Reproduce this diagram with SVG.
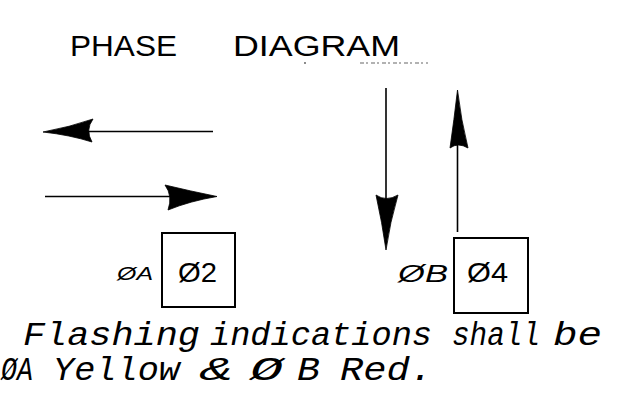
<svg xmlns="http://www.w3.org/2000/svg" width="623" height="395" viewBox="0 0 623 395">
  <style>
    .title { font-family: "Liberation Sans", Arial, sans-serif; font-size: 29px; fill: #000; }
    .num { font-family: "Liberation Sans", Arial, sans-serif; font-size: 28px; fill: #000; }
    .tag { font-family: "Liberation Sans", Arial, sans-serif; font-style: italic; fill: #000; }
    .note { font-family: "Liberation Mono", "Courier New", monospace; font-style: italic; font-size: 33px; fill: #000; }
    .box { fill: none; stroke: #000; stroke-width: 2; }
    .shaft { fill: none; stroke: #000; stroke-width: 1.6; }
    .head { fill: #000; stroke: #000; stroke-width: 0.8; stroke-linejoin: round; }
  </style>

  <!-- heading -->
  <g id="title">
    <text class="title" x="70" y="56" textLength="107" lengthAdjust="spacingAndGlyphs">PHASE</text>
    <text class="title" x="233" y="56" textLength="167" lengthAdjust="spacingAndGlyphs">DIAGRAM</text>
    <circle cx="305" cy="63" r="0.9" fill="#555"/>
    <line x1="360" y1="63" x2="428" y2="63" stroke="#666" stroke-width="1.2" stroke-dasharray="4 2 2 3"/>
  </g>

  <!-- movement arrows -->
  <g id="connectors">
    <!-- westbound -->
    <line class="shaft" x1="88" y1="131.5" x2="213" y2="131.5"/>
    <path class="head" d="M43,132 Q70,127 93,119 Q85,130 92,142 Q70,135 43,132 Z"/>
    <!-- eastbound -->
    <line class="shaft" x1="45" y1="196.5" x2="172" y2="196.5"/>
    <path class="head" d="M217,196.5 Q190,191 165,185 Q173,196 168,210 Q190,201 217,196.5 Z"/>
    <!-- southbound -->
    <line class="shaft" x1="386" y1="88" x2="386" y2="202"/>
    <path class="head" d="M386,250 Q382,222 376,195 Q386,202 398,195 Q390,222 386,250 Z"/>
    <!-- northbound -->
    <line class="shaft" x1="457.5" y1="143" x2="457.5" y2="232"/>
    <path class="head" d="M457.5,90 Q454,120 450,148 Q458,142 468,148 Q461,120 457.5,90 Z"/>
  </g>

  <!-- phase A -->
  <g id="phase-a">
    <text class="tag" x="117" y="280" font-size="19" textLength="36" lengthAdjust="spacingAndGlyphs">ØA</text>
    <rect class="box" x="162" y="233" width="73" height="74"/>
    <text class="num" x="178" y="282" textLength="39" lengthAdjust="spacingAndGlyphs">Ø2</text>
  </g>

  <!-- phase B -->
  <g id="phase-b">
    <text class="tag" x="398" y="282" font-size="24" textLength="50" lengthAdjust="spacingAndGlyphs">ØB</text>
    <rect class="box" x="454" y="238" width="74" height="75"/>
    <text class="num" x="467" y="282" textLength="41" lengthAdjust="spacingAndGlyphs">Ø4</text>
  </g>

  <!-- flashing note -->
  <g id="note">
    <text class="note" x="23" y="345" textLength="177" lengthAdjust="spacingAndGlyphs">Flashing</text>
    <text class="note" x="210" y="345" textLength="222" lengthAdjust="spacingAndGlyphs">indications</text>
    <text class="note" x="452" y="345" textLength="88" lengthAdjust="spacingAndGlyphs">shall</text>
    <text class="note" x="553" y="345" textLength="49" lengthAdjust="spacingAndGlyphs">be</text>
    <text class="note" x="1" y="380" textLength="32" lengthAdjust="spacingAndGlyphs">ØA</text>
    <text class="note" x="53" y="380" textLength="127" lengthAdjust="spacingAndGlyphs">Yellow</text>
    <text class="note" x="200" y="380" textLength="33" lengthAdjust="spacingAndGlyphs">&amp;</text>
    <text class="note" x="250" y="380" textLength="33" lengthAdjust="spacingAndGlyphs">Ø</text>
    <text class="note" x="297" y="380" textLength="23" lengthAdjust="spacingAndGlyphs">B</text>
    <text class="note" x="340" y="380" textLength="93" lengthAdjust="spacingAndGlyphs">Red.</text>
  </g>
</svg>
